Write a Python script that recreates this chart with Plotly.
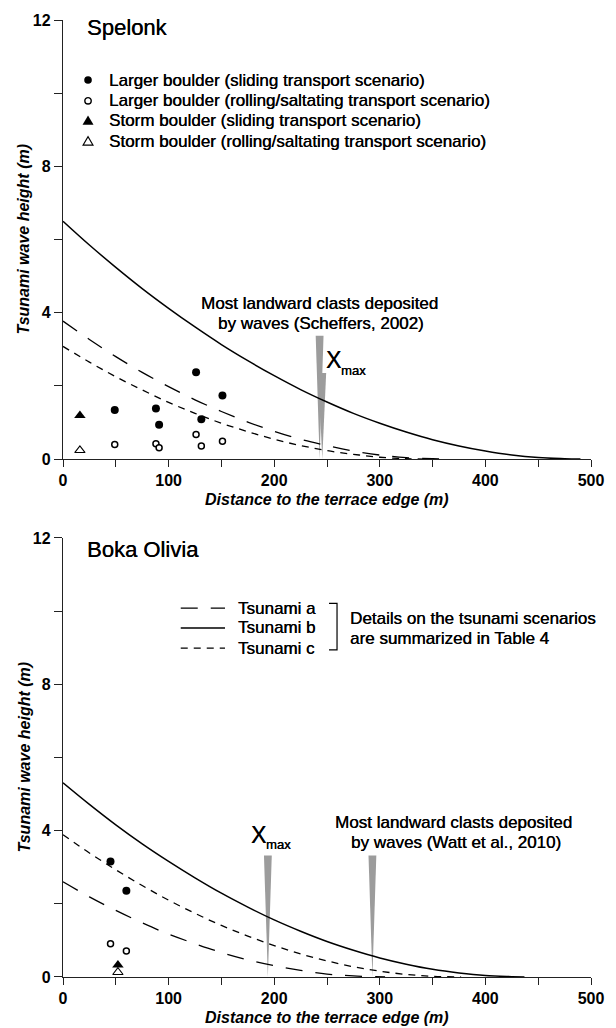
import plotly.graph_objects as go

FONT = "Arial, Liberation Sans, Helvetica, sans-serif"
INK = "#000000"
AXIS = "#222222"
WEDGE = "#9c9c9c"
HEAVY = "0.35px 0px 0px #000000"

# ---------------- Spelonk ----------------
spk_dist_a = [0, 25, 50, 75, 100, 125, 150, 175, 200, 225, 250, 275, 300, 325, 350, 363]
spk_tsunami_a = [3.77, 3.27, 2.80, 2.37, 1.98, 1.62, 1.30, 1.01, 0.76, 0.54, 0.37, 0.22, 0.11, 0.04, 0.01, 0.0]
spk_dist_b = [0, 25, 50, 75, 100, 125, 150, 175, 200, 225, 250, 275, 300, 325, 350, 375, 400, 425, 450, 475, 490]
spk_tsunami_b = [6.50, 5.85, 5.24, 4.66, 4.12, 3.61, 3.13, 2.69, 2.28, 1.90, 1.56, 1.25, 0.98, 0.74, 0.53, 0.36,
                 0.22, 0.11, 0.04, 0.01, 0.0]
spk_dist_c = [0, 25, 50, 75, 100, 125, 150, 175, 200, 225, 250, 275, 300, 325, 345]
spk_tsunami_c = [3.08, 2.65, 2.25, 1.89, 1.55, 1.25, 0.98, 0.75, 0.54, 0.37, 0.23, 0.13, 0.05, 0.01, 0.0]

spk_large_dist = [49, 88, 91, 126, 131, 151]
spk_large_sliding = [1.34, 1.38, 0.94, 2.37, 1.09, 1.74]
spk_large_rolling = [0.40, 0.42, 0.31, 0.67, 0.36, 0.49]
spk_storm_dist = [16]
spk_storm_sliding = [1.19]
spk_storm_rolling = [0.24]

spk_landward_x, spk_landward_top = 243.0, 3.37
spk_xmax_x, spk_xmax_top = 245.5, 2.35

# ---------------- Boka Olivia ----------------
boka_dist_a = [0, 25, 50, 75, 100, 125, 150, 175, 200, 225, 250, 275, 305]
boka_tsunami_a = [2.60, 2.19, 1.82, 1.48, 1.17, 0.91, 0.67, 0.47, 0.31, 0.18, 0.08, 0.03, 0.0]
boka_dist_b = [0, 25, 50, 75, 100, 125, 150, 175, 200, 225, 250, 275, 300, 325, 350, 375, 400, 425, 437]
boka_tsunami_b = [5.31, 4.72, 4.16, 3.64, 3.16, 2.71, 2.29, 1.91, 1.56, 1.25, 0.97, 0.73, 0.52, 0.35, 0.21,
                  0.11, 0.04, 0.01, 0.0]
boka_dist_c = [0, 25, 50, 75, 100, 125, 150, 175, 200, 225, 250, 275, 300, 325, 350, 377]
boka_tsunami_c = [3.89, 3.39, 2.93, 2.50, 2.10, 1.74, 1.41, 1.12, 0.86, 0.63, 0.44, 0.28, 0.16, 0.07, 0.02, 0.0]

boka_large_dist = [45, 60]
boka_large_sliding = [3.16, 2.36]
boka_large_rolling = [0.91, 0.71]
boka_storm_dist = [52]
boka_storm_sliding = [0.33]
boka_storm_rolling = [0.13]

boka_xmax_x, boka_xmax_top = 194.0, 3.32
boka_landward_x, boka_landward_top = 293.0, 3.32

# Axis ticks
x_tickvals = [0, 50, 100, 150, 200, 250, 300, 350, 400, 450, 500]
x_ticktext = ["0", "", "100", "", "200", "", "300", "", "400", "", "500"]
y_tickvals = [0, 2, 4, 6, 8, 10, 12]
y_ticktext = ["0", "", "4", "", "8", "", "12"]

LONG_DASH = "17px,13px"
SHORT_DASH = "7px,6px"

fig = go.Figure()


def add_curves(xa, ya, xb, yb, xc, yc, xref, yref):
    for xs, ys, dash, w in ((xa, ya, LONG_DASH, 1.3), (xb, yb, "solid", 1.5), (xc, yc, SHORT_DASH, 1.3)):
        fig.add_trace(go.Scatter(x=xs, y=ys, mode="lines", xaxis=xref, yaxis=yref,
                                 line=dict(color="black", width=w, dash=dash, shape="spline", smoothing=1.0),
                                 showlegend=False, hoverinfo="skip"))


def add_points(xl, ys_slide, ys_roll, xs, st_slide, st_roll, xref, yref):
    common = dict(mode="markers", xaxis=xref, yaxis=yref, showlegend=False, cliponaxis=False)
    fig.add_trace(go.Scatter(x=xl, y=ys_roll, marker=dict(symbol="circle", size=6, color="white",
                                                          line=dict(color="black", width=1.5)), **common))
    fig.add_trace(go.Scatter(x=xl, y=ys_slide, marker=dict(symbol="circle", size=8, color="black",
                                                           line=dict(width=0)), **common))
    fig.add_trace(go.Scatter(x=xs, y=st_roll, marker=dict(symbol="triangle-up", size=9, color="white",
                                                          line=dict(color="black", width=1.1)), **common))
    fig.add_trace(go.Scatter(x=xs, y=st_slide, marker=dict(symbol="triangle-up", size=10, color="black",
                                                           line=dict(width=0)), **common))


add_curves(spk_dist_a, spk_tsunami_a, spk_dist_b, spk_tsunami_b, spk_dist_c, spk_tsunami_c, "x", "y")
add_points(spk_large_dist, spk_large_sliding, spk_large_rolling,
           spk_storm_dist, spk_storm_sliding, spk_storm_rolling, "x", "y")
add_curves(boka_dist_a, boka_tsunami_a, boka_dist_b, boka_tsunami_b, boka_dist_c, boka_tsunami_c, "x2", "y2")
add_points(boka_large_dist, boka_large_sliding, boka_large_rolling,
           boka_storm_dist, boka_storm_sliding, boka_storm_rolling, "x2", "y2")

shapes = []


def wedge(x, top, xref, yref, hw=3.7):
    shapes.append(dict(type="path", xref=xref, yref=yref, layer="below",
                       path=f"M {x - hw},{top} L {x + hw},{top} L {x},0 Z",
                       fillcolor=WEDGE, line=dict(width=0)))


wedge(spk_landward_x, spk_landward_top, "x", "y")
wedge(spk_xmax_x, spk_xmax_top, "x", "y")
wedge(boka_xmax_x, boka_xmax_top, "x2", "y2")
wedge(boka_landward_x, boka_landward_top, "x2", "y2")

annotations = []


def text(x, y, s, xref, yref, size=17, xanchor="center", **kw):
    annotations.append(dict(x=x, y=y, xref=xref, yref=yref, text=s, showarrow=False,
                            xanchor=xanchor, yanchor="middle",
                            font=dict(family=FONT, size=size, color=INK, shadow=HEAVY), **kw))


# Panel titles
text(20.9, 11.80, "Spelonk", "x", "y", size=22, xanchor="left")
text(20.9, 11.68, "Boka Olivia", "x2", "y2", size=22, xanchor="left")

# Symbol key (upper panel)
key_x, key_text_x = 23.7, 41.7
key_rows = [10.36, 9.79, 9.25, 8.69]
key_labels = ["Larger boulder (sliding transport scenario)",
              "Larger boulder (rolling/saltating transport scenario)",
              "Storm boulder (sliding transport scenario)",
              "Storm boulder (rolling/saltating transport scenario)"]
for row, label in zip(key_rows, key_labels):
    text(key_text_x, row, label, "x", "y", xanchor="left")

pix = dict(xref="x", yref="y", xsizemode="pixel", ysizemode="pixel", xanchor=key_x)
shapes.append(dict(type="circle", yanchor=key_rows[0], x0=-3.8, x1=3.8, y0=-3.8, y1=3.8,
                   fillcolor="black", line=dict(width=0), **pix))
shapes.append(dict(type="circle", yanchor=key_rows[1], x0=-3.2, x1=3.2, y0=-3.2, y1=3.2,
                   fillcolor="white", line=dict(color="black", width=1.4), **pix))
shapes.append(dict(type="path", yanchor=key_rows[2], path="M -5.5,-4.2 L 5.5,-4.2 L 0,5 Z",
                   fillcolor="black", line=dict(width=0), **pix))
shapes.append(dict(type="path", yanchor=key_rows[3], path="M -5,-4 L 5,-4 L 0,4.5 Z",
                   fillcolor="white", line=dict(color="black", width=1.1), **pix))

# Line key (lower panel)
line_x0, line_x1, line_text_x = 111.5, 153.4, 163.8
line_rows = [10.08, 9.54, 8.99]
for row, dash, w, label in zip(line_rows, [LONG_DASH, "solid", SHORT_DASH], [1.3, 1.5, 1.3],
                               ["Tsunami a", "Tsunami b", "Tsunami c"]):
    shapes.append(dict(type="line", xref="x2", yref="y2", x0=line_x0, x1=line_x1, y0=row, y1=row,
                       line=dict(color="black", width=w, dash=dash)))
    text(line_text_x, row, label, "x2", "y2", xanchor="left")

br_x0, br_x1, br_top, br_bot = 251.9, 259.5, 10.21, 8.94
shapes.append(dict(type="path", xref="x2", yref="y2",
                   path=f"M {br_x0},{br_top} L {br_x1},{br_top} L {br_x1},{br_bot} L {br_x0},{br_bot}",
                   line=dict(color="black", width=1.2)))
text(269.9, 9.80, "Details on the tsunami scenarios", "x2", "y2", xanchor="left")
text(269.9, 9.26, "are summarized in Table 4", "x2", "y2", xanchor="left")

# Arrow labels
text(243.0, 4.26, "Most landward clasts deposited", "x", "y")
text(244.5, 3.71, "by waves (Scheffers, 2002)", "x", "y")
text(247.2, 2.70, "X", "x", "y", size=23, xanchor="left")
text(261.4, 2.43, "max", "x", "y", size=13, xanchor="left")

text(369.8, 4.22, "Most landward clasts deposited", "x2", "y2")
text(372.0, 3.67, "by waves (Watt et al., 2010)", "x2", "y2")
text(176.1, 3.89, "X", "x2", "y2", size=23, xanchor="left")
text(190.3, 3.62, "max", "x2", "y2", size=13, xanchor="left")

# Axis titles
for xr, yr in (("x", "y"), ("x2", "y2")):
    annotations.append(dict(x=0.5, y=0, xref=f"{xr} domain", yref=f"{yr} domain", yshift=-40,
                            text="Distance to the terrace edge (m)", showarrow=False,
                            xanchor="center", yanchor="middle",
                            font=dict(family=FONT, size=16, color=INK, style="italic", weight="bold")))
    annotations.append(dict(x=0, y=0.5, xref=f"{xr} domain", yref=f"{yr} domain", xshift=-39,
                            text="Tsunami wave height (m)", showarrow=False, textangle=-90,
                            xanchor="center", yanchor="middle",
                            font=dict(family=FONT, size=16, color=INK, style="italic", weight="bold")))

tickfont = dict(family=FONT, size=16, color=INK, weight="bold")
xcommon = dict(range=[0, 500], tickmode="array", tickvals=x_tickvals, ticktext=x_ticktext,
               showline=True, linecolor=AXIS, linewidth=1.3, ticks="outside", ticklen=7,
               tickwidth=1.3, tickcolor=AXIS, showgrid=False, zeroline=False, tickfont=tickfont)
ycommon = dict(range=[0, 12], tickmode="array", tickvals=y_tickvals, ticktext=y_ticktext,
               showline=True, linecolor=AXIS, linewidth=1.3, ticks="outside", ticklen=8,
               tickwidth=1.3, tickcolor=AXIS, showgrid=False, zeroline=False, tickfont=tickfont)

fig.update_layout(
    width=616, height=1028,
    margin=dict(l=63, r=25, t=18, b=51),
    paper_bgcolor="white", plot_bgcolor="white",
    showlegend=False,
    xaxis=dict(domain=[0, 1], anchor="y", **xcommon),
    yaxis=dict(domain=[0.5412, 1.0], anchor="x", **ycommon),
    xaxis2=dict(domain=[0, 1], anchor="y2", **xcommon),
    yaxis2=dict(domain=[0.0, 0.4588], anchor="x2", **ycommon),
    shapes=shapes,
    annotations=annotations,
)

fig.write_html("out.html")
